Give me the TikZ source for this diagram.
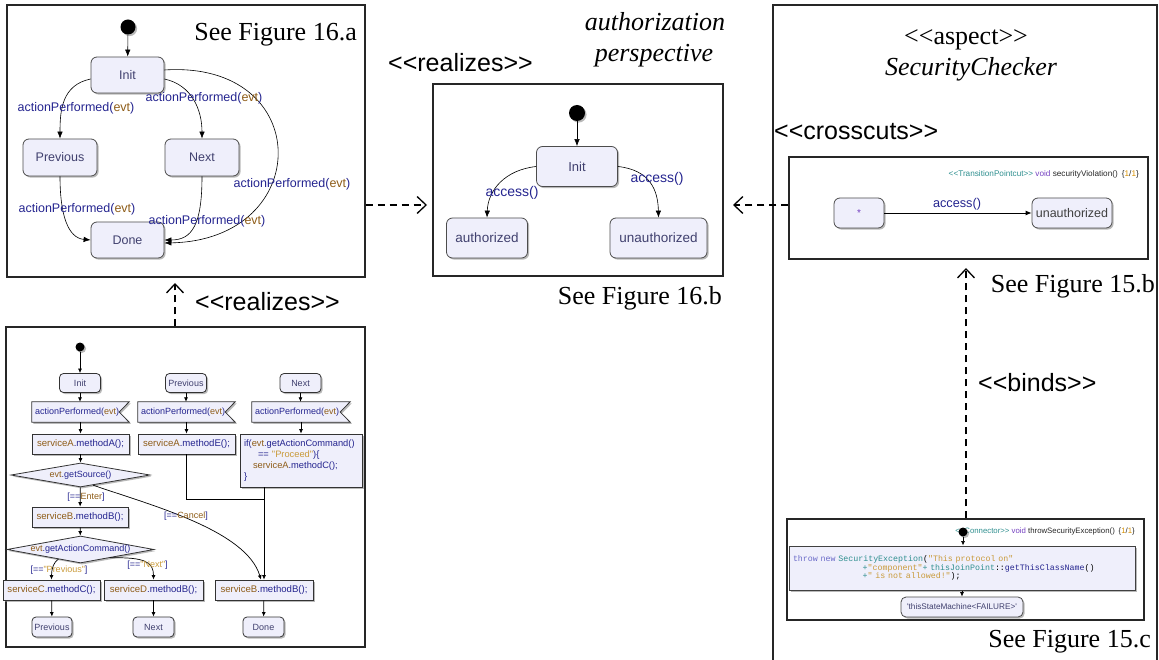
\documentclass[tikz,border=0pt]{standalone}
\usepackage{fontspec}
\setmainfont{Liberation Serif}[Ligatures=TeXOff]
\setsansfont{Liberation Sans}[Ligatures=TeXOff]
\setmonofont{Liberation Mono}
\usetikzlibrary{shapes.geometric,arrows.meta,shadows,calc}
\pgfdeclarelayer{bg}
\pgfsetlayers{bg,main}
\definecolor{lav}{HTML}{EFEFFB}
\definecolor{stxt}{HTML}{40406E}
\definecolor{nvy}{HTML}{24248F}
\definecolor{brn}{HTML}{8E5C18}
\definecolor{gld}{HTML}{C99A3A}
\definecolor{tea}{HTML}{2F8F8F}
\definecolor{prp}{HTML}{7440C0}
\definecolor{org}{HTML}{D89000}
\definecolor{kwd}{HTML}{6A6AC8}
\newcommand{\kN}[1]{\textcolor{nvy}{#1}}
\newcommand{\kB}[1]{\textcolor{brn}{#1}}
\newcommand{\kG}[1]{\textcolor{gld}{#1}}
\newcommand{\kT}[1]{\textcolor{tea}{#1}}
\newcommand{\kP}[1]{\textcolor{prp}{#1}}
\newcommand{\kO}[1]{\textcolor{org}{#1}}
\newcommand{\kK}[1]{\textcolor{kwd}{#1}}
\newcommand{\lla}{<\kern0pt<}
\newcommand{\rra}{>\kern0pt>}
\tikzset{
  frame/.style={draw=black!85, line width=1.4pt, inner sep=0},
  shd/.style={drop shadow={shadow xshift=1.6pt, shadow yshift=-1.6pt, fill=black!50, opacity=0.55}},
  st/.style={rectangle, rounded corners=6pt, draw=black!70, line width=0.8pt, fill=lav, text=stxt, inner sep=0, shd, font=\sffamily\fontsize{12.5}{14}\selectfont},
  dot/.style={circle, fill=black, inner sep=0, shd},
  lbl/.style={font=\sffamily\fontsize{12.5}{14}\selectfont, text=nvy, inner sep=0},
  tr/.style={-{Latex[length=7pt,width=5.5pt]}, line width=0.6pt},
  ta/.style={-{Latex[length=4.5pt,width=4pt]}, line width=0.7pt},
  dep/.style={line width=1.3pt, dash pattern=on 7pt off 5pt, -{Straight Barb[length=9pt,width=17pt]}},
  big/.style={font=\sffamily\fontsize{25}{28}\selectfont, inner sep=0},
  ser/.style={font=\fontsize{26}{32}\selectfont, inner sep=0},
  sm/.style={font=\sffamily\fontsize{9}{11}\selectfont, text=nvy, inner sep=0},
  act/.style={rectangle, draw=black!80, line width=0.8pt, fill=lav, sm, font=\sffamily\fontsize{9.6}{11}\selectfont, minimum height=20pt, shd},
  ast/.style={act, rounded corners=4pt, text=stxt, font=\sffamily\fontsize{9}{11}\selectfont},
  ev/.style={sm, minimum height=20pt, text width=91pt, align=left, inner xsep=3pt},
  evshape/.style={draw=black!80, line width=0.8pt, fill=lav, shd},
  dia/.style={diamond, draw=black!80, line width=0.8pt, fill=lav, sm, inner sep=0, shd},
}
\begin{document}
\begin{tikzpicture}[x=1pt,y=-1pt]
\useasboundingbox (0,0) rectangle (1159,660);
% ---------- frames
\node[frame, minimum width=358pt, minimum height=272pt] (figA) at (186,141) {};
\node[frame, minimum width=290pt, minimum height=192pt] (figB) at (578,180) {};
\node[frame, minimum width=359pt, minimum height=320pt] (figL) at (185.5,487) {};
\draw[draw=black!85, line width=1.4pt] (773,672) -- (773,5) -- (1157,5) -- (1157,672);
\node[frame, line width=1.2pt, minimum width=359pt, minimum height=102pt] (figSB) at (968.5,208) {};
\node[frame, line width=1.2pt, minimum width=357pt, minimum height=101pt] (figSC) at (965.5,569.5) {};

% ---------- titles
\node[ser, anchor=base east] (seeA) at (357,41) {See Figure 16.a};
\node[ser, anchor=base east] (seeB) at (722,305) {See Figure 16.b};
\node[ser, anchor=base east] (seeSB) at (1155,293) {See Figure 15.b};
\node[ser, anchor=base east] (seeSC) at (1151,647) {See Figure 15.c};
\node[ser, anchor=base, font=\fontsize{26}{32}\selectfont\itshape] (ttl1) at (655,31) {authorization};
\node[ser, anchor=base, font=\fontsize{26}{32}\selectfont\itshape] (ttl2) at (654,62) {perspective};
\node[ser, anchor=base] (asp) at (966,45) {\lla aspect\rra};
\node[ser, anchor=base, font=\fontsize{26}{32}\selectfont\itshape] (scn) at (971,76) {SecurityChecker};
\node[big, anchor=base west] (rz1) at (388,72) {\lla realizes\rra};
\node[big, anchor=base west] (rz2) at (195,310) {\lla realizes\rra};
\node[big, anchor=base west] (xc) at (774,140) {\lla crosscuts\rra};
\node[big, anchor=base west] (bd) at (978,391) {\lla binds\rra};

% ---------- Figure 16.a
\node[dot, minimum size=15pt] (aDot) at (128,27) {};
\node[st, minimum width=73pt, minimum height=36pt] (aInit) at (127.5,75) {Init};
\node[st, minimum width=74pt, minimum height=37pt] (aPrev) at (60,157.5) {Previous};
\node[st, minimum width=74pt, minimum height=37pt] (aNext) at (202,157.5) {Next};
\node[st, minimum width=73pt, minimum height=36pt] (aDone) at (127.5,240) {Done};
\draw[tr] (aDot) -- (aInit);
\draw[tr] ([yshift=-4pt]aInit.west) .. controls (62,85) and (60,110) .. (aPrev.north);
\draw[tr] ([yshift=-4pt]aInit.east) .. controls (192,85) and (202,110) .. (aNext.north);
\draw[tr] ([yshift=5pt]aInit.east) .. controls (315,60) and (315,240) .. ([yshift=-3pt]aDone.east);
\draw[tr] (aPrev.south) .. controls (60,215) and (68,238) .. (aDone.west);
\draw[tr] (aNext.south) .. controls (202,225) and (192,240) .. (aDone.east);
\node[lbl] (la1) at (76,108) {actionPerformed(\kB{evt})};
\node[lbl] (la2) at (204,98) {actionPerformed(\kB{evt})};
\node[lbl] (la3) at (292,184) {actionPerformed(\kB{evt})};
\node[lbl] (la4) at (77,209) {actionPerformed(\kB{evt})};
\node[lbl] (la5) at (207,221) {actionPerformed(\kB{evt})};

% ---------- Figure 16.b
\node[dot, minimum size=16pt] (bDot) at (577,113) {};
\node[st, minimum width=81pt, minimum height=40pt, font=\sffamily\fontsize{13}{15}\selectfont] (bInit) at (577,166.5) {Init};
\node[st, minimum width=81pt, minimum height=40pt, font=\sffamily\fontsize{13.5}{15}\selectfont] (bAuth) at (487,238) {authorized};
\node[st, minimum width=97pt, minimum height=40pt, font=\sffamily\fontsize{13.5}{15}\selectfont] (bUna) at (658.5,238) {unauthorized};
\draw[tr] (bDot) -- (bInit);
\draw[tr] (bInit.west) .. controls (505,170) and (488,190) .. (bAuth.north);
\draw[tr] (bInit.east) .. controls (650,170) and (658,190) .. (bUna.north);
\node[lbl, font=\sffamily\fontsize{14}{16}\selectfont] (lb1) at (512,193) {access()};
\node[lbl, font=\sffamily\fontsize{14}{16}\selectfont] (lb2) at (657,179) {access()};

% ---------- Figure 15.b
\node[font=\sffamily\fontsize{8.2}{10}\selectfont, text=black!85, anchor=east, inner sep=0] (hdB) at (1139,174)
  {\kT{\lla TransitionPointcut\rra} \kP{void} securityViolation()\enspace\{\kO{1}/\kO{1}\}};
\node[st, minimum width=50pt, minimum height=30pt, text=prp, font=\sffamily\fontsize{10}{12}\selectfont] (cStar) at (859,213) {*};
\node[st, minimum width=80pt, minimum height=30pt, text=black!75, font=\sffamily\fontsize{12.5}{14}\selectfont] (cUna) at (1072,213) {unauthorized};
\draw[-{Latex[length=6pt,width=5pt]}, line width=0.8pt] (cStar) -- (cUna);
\node[lbl, font=\sffamily\fontsize{12.7}{14}\selectfont] (lc) at (957,204) {access()};

% ---------- Figure 15.c
\node[font=\sffamily\fontsize{7.8}{10}\selectfont, text=black!85, anchor=east, inner sep=0] (hdC) at (1135,531)
  {\kT{\lla Connector\rra} \kP{void} throwSecurityException()\enspace\{\kO{1}/\kO{1}\}};
\node[dot, minimum size=9pt] (scDot) at (963,532) {};
\node[rectangle, draw=black!75, line width=1pt, fill=lav, shd, minimum width=346pt, minimum height=44pt,
      text width=338pt, align=left, inner xsep=4pt, inner ysep=0,
      font=\ttfamily\fontsize{8.3}{8.6}\selectfont] (code) at (962,568)
  {\kK{throw new} \kT{SecurityException}(\kG{"This protocol on"}\\
   \phantom{00000000000000}\kT{+}\kG{"component"}\kT{+ thisJoinPoint}::\kN{getThisClassName}()\\
   \phantom{00000000000000}\kT{+}\kG{" is not allowed!"});};
\node[st, rounded corners=5pt, minimum width=122pt, minimum height=20pt, text=stxt, font=\sffamily\fontsize{8.2}{10}\selectfont] (fail) at (962,607) {'thisStateMachine<FAILURE>'};
\draw[ta] (scDot) -- (scDot |- code.north);
\draw[ta] (code.south -| fail.north) -- (fail.north);

% ---------- activity diagram (bottom left)
\node[dot, minimum size=9pt] (dDot) at (80,347) {};
\node[ast, minimum width=41pt, minimum height=19pt] (dInit) at (80,383) {Init};
\node[ast, minimum width=41pt, minimum height=19pt] (dPrev) at (186,383) {Previous};
\node[ast, minimum width=41pt, minimum height=19pt] (dNext) at (300.5,383) {Next};
\node[ev] (ap1) at (80.5,412) {actionPerformed(\kB{evt})};
\node[ev] (ap2) at (186.5,412) {actionPerformed(\kB{evt})};
\node[ev, text width=92pt] (ap3) at (301,412) {actionPerformed(\kB{evt})};
\begin{pgfonlayer}{bg}
\foreach \n in {ap1,ap2,ap3}
  \draw[evshape] (\n.north west) -- (\n.north east) -- ([xshift=-10pt]\n.east) -- (\n.south east) -- (\n.south west) -- cycle;
\end{pgfonlayer}
\node[act, minimum width=97pt] (sA) at (80.5,444) {\kB{serviceA}.methodA();};
\node[act, minimum width=97pt] (sE) at (186.5,444) {\kB{serviceA}.methodE();};
\node[act, minimum width=122pt, minimum height=53pt, text width=114pt, align=left, inner xsep=4pt,
      font=\sffamily\fontsize{9.3}{10.8}\selectfont] (ifb) at (301,460.5)
  {if(\kB{evt}.getActionCommand()\\
   \hspace*{14pt}== \kG{"Proceed"})\{\\
   \hspace*{9pt}\kB{serviceA}.methodC();\\
   \}};
\node[dia, shape aspect=5.8, minimum width=139pt, minimum height=24pt] (d1) at (80.5,475) {\kB{evt}.getSource()};
\node[act, minimum width=96pt] (sB) at (80,517) {\kB{serviceB}.methodB();};
\node[dia, shape aspect=5.4, minimum width=147pt, minimum height=27pt] (d2) at (80.5,549.5) {\kB{evt}.getActionCommand()};
\node[act, minimum width=97pt] (sC) at (51.5,590) {\kB{serviceC}.methodC();};
\node[act, minimum width=99pt] (sD) at (153.5,590) {\kB{serviceD}.methodB();};
\node[act, minimum width=98pt] (sB2) at (264,590) {\kB{serviceB}.methodB();};
\node[ast, minimum width=40pt, minimum height=20pt] (ePrev) at (52,627) {Previous};
\node[ast, minimum width=41pt, minimum height=20pt] (eNext) at (153.5,627) {Next};
\node[ast, minimum width=41pt, minimum height=20pt] (eDone) at (263.5,627) {Done};
\coordinate (mrg) at (264,499);

\draw[ta] (dDot) -- (dInit);
\draw[ta] (dInit) -- (dInit |- ap1.north);
\draw[ta] (dPrev) -- (dPrev |- ap2.north);
\draw[ta] (dNext) -- (dNext |- ap3.north);
\draw[ta] (ap1.south -| sA.north) -- (sA.north);
\draw[ta] (ap2.south -| sE.north) -- (sE.north);
\draw[ta] (ap3.south -| ifb.north) -- (ifb.north);
\draw[ta] (sA) -- (d1);
\draw[ta] (d1) -- (sB);
\draw[ta] ($(d1.south)!0.18!(d1.east)$) .. controls (150,505) and (246,530) .. ([xshift=-3pt]sB2.north);
\draw[line width=0.7pt] (sE) |- (mrg);
\draw[ta] (sB2.north |- ifb.south) -- (sB2.north);
\draw[ta] (sB) -- (d2);
\draw[ta] ($(d2.south)!0.3!(d2.west)$) .. controls (54,562) and (51.5,568) .. (sC.north);
\draw[ta] ($(d2.south)!0.4!(d2.east)$) .. controls (145,557) and (153.5,562) .. (sD.north);
\draw[ta] (sC) -- (ePrev);
\draw[ta] (sD) -- (eNext);
\draw[ta] (sB2) -- (eDone);
\node[sm] (lEnter) at (86,497) {[==\kB{Enter}]};
\node[sm] (lCancel) at (186,516) {[==\kB{Cancel}]};
\node[sm] (lPq) at (59,570) {[==\kG{"Previous"}]};
\node[sm] (lNq) at (147.5,565) {[==\kG{"Next"}]};

% ---------- dependency arrows
\coordinate (tipA) at (175,283);
\coordinate (tipD) at (427,205);
\coordinate (tipC) at (733,205);
\coordinate (tipB) at (966,268);
\draw[dep] (tipA |- figL.north) -- (tipA);
\draw[dep] (figA.east |- tipD) -- (tipD);
\draw[dep] (figSB.west |- tipC) -- (tipC);
\draw[dep] (tipB |- figSC.north) -- (tipB);
\end{tikzpicture}
\end{document}
